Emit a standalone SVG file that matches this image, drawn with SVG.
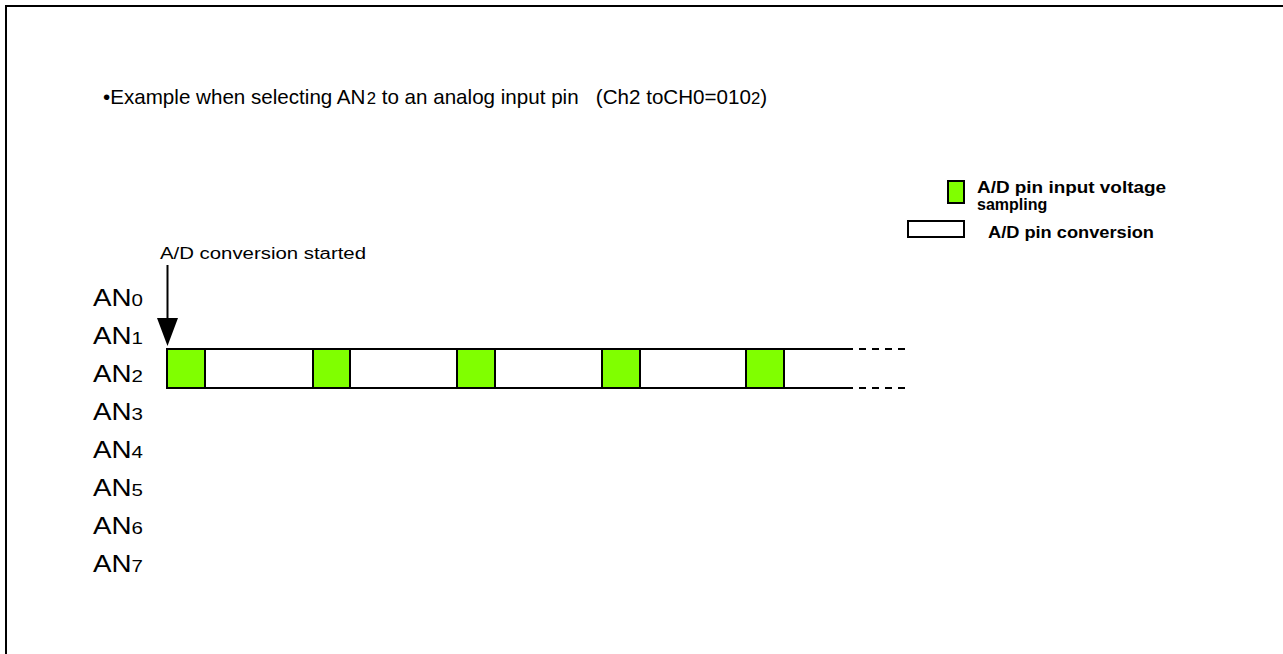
<svg xmlns="http://www.w3.org/2000/svg" width="1283" height="654" viewBox="0 0 1283 654">
<style>
text{font-family:"Liberation Sans",Arial,sans-serif;fill:#000}
.t{font-size:20.6px}
.ts{font-size:16.7px}
.an{font-size:23px}
.sub{font-size:17px}
.leg{font-size:16px;font-weight:bold}
.g{fill:#80ff00;stroke:#000;stroke-width:2}
.w{fill:#fff;stroke:#000;stroke-width:2}
.ln{stroke:#000;stroke-width:2;fill:none}
</style>
<rect width="1283" height="654" fill="#fff"/>
<g id="frame"><path class="ln" d="M6,654 V6 H1283" stroke-width="2.5"/></g>
<g id="title">
<text class="t" x="103" y="104">•Example when selecting AN</text>
<text class="ts" x="366.7" y="104">2</text>
<text class="t" x="381.7" y="104" xml:space="preserve">to an analog input pin   (Ch2 toCH0=010</text>
<text class="ts" x="751" y="104">2</text>
<text class="t" x="760.3" y="104">)</text>
</g>
<g id="legend">
<rect class="g" x="948" y="181" width="16" height="22"/>
<text class="leg" x="977" y="193" textLength="189" lengthAdjust="spacingAndGlyphs">A/D pin input voltage</text>
<text class="leg" x="977" y="210">sampling</text>
<rect class="w" x="908" y="221" width="56" height="16"/>
<text class="leg" x="988" y="238" textLength="166" lengthAdjust="spacingAndGlyphs">A/D pin conversion</text>
</g>
<g id="labels">
<text class="an" x="93" y="306" textLength="50" lengthAdjust="spacingAndGlyphs">AN<tspan class="sub">0</tspan></text>
<text class="an" x="93" y="344" textLength="50" lengthAdjust="spacingAndGlyphs">AN<tspan class="sub">1</tspan></text>
<text class="an" x="93" y="382" textLength="50" lengthAdjust="spacingAndGlyphs">AN<tspan class="sub">2</tspan></text>
<text class="an" x="93" y="420" textLength="50" lengthAdjust="spacingAndGlyphs">AN<tspan class="sub">3</tspan></text>
<text class="an" x="93" y="458" textLength="50" lengthAdjust="spacingAndGlyphs">AN<tspan class="sub">4</tspan></text>
<text class="an" x="93" y="496" textLength="50" lengthAdjust="spacingAndGlyphs">AN<tspan class="sub">5</tspan></text>
<text class="an" x="93" y="534" textLength="50" lengthAdjust="spacingAndGlyphs">AN<tspan class="sub">6</tspan></text>
<text class="an" x="93" y="572" textLength="50" lengthAdjust="spacingAndGlyphs">AN<tspan class="sub">7</tspan></text>
<text x="160" y="259" font-size="16" textLength="206" lengthAdjust="spacingAndGlyphs">A/D conversion started</text>
</g>
<g id="bar">
<path class="ln" d="M167,349 H846 M167,388 H846"/>
<rect class="g" x="167" y="349" width="38" height="39"/>
<rect class="g" x="313" y="349" width="37" height="39"/>
<rect class="g" x="457" y="349" width="38" height="39"/>
<rect class="g" x="602" y="349" width="38" height="39"/>
<rect class="g" x="746" y="349" width="38" height="39"/>
</g>
<g id="connectors">
<path class="ln" d="M167.5,265 V320"/>
<polygon points="157,318 178,318 167.5,346" fill="#000"/>
<path class="ln" d="M846,349 H907 M846,388 H907" stroke-dasharray="7,6"/>
</g>
</svg>
